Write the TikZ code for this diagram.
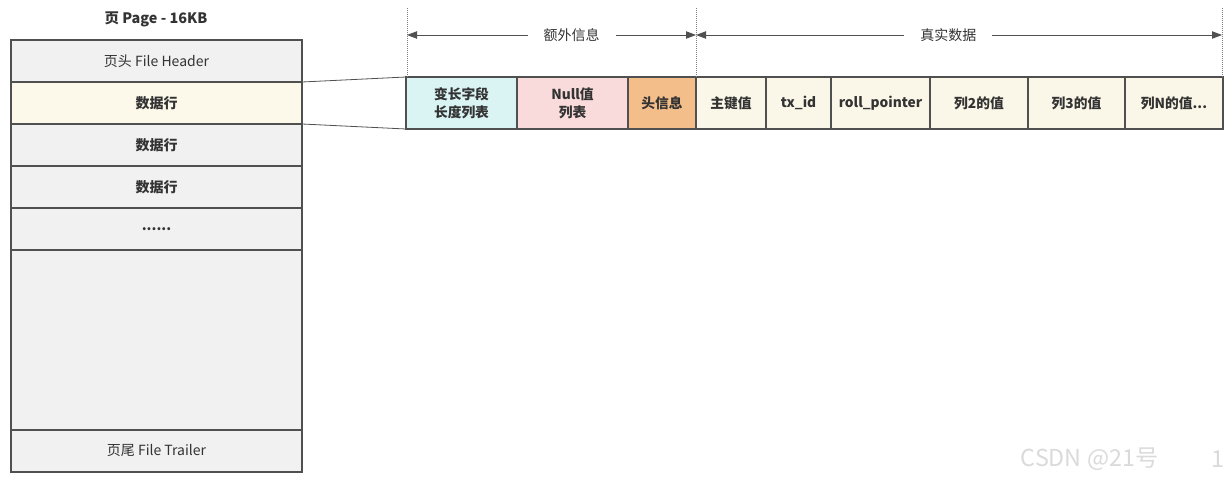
\documentclass[tikz,border=0pt]{standalone}
\usepackage{fontspec}
\setmainfont{Noto Sans CJK SC}
\usetikzlibrary{arrows.meta, positioning}

\definecolor{linegray}{HTML}{505050}
\definecolor{textgray}{HTML}{333333}
\definecolor{pagegray}{HTML}{F1F1F1}
\definecolor{rowcream}{HTML}{FCF8EA}
\definecolor{fieldcream}{HTML}{FBF7E8}
\definecolor{varcolor}{HTML}{DAF3F3}
\definecolor{nullcolor}{HTML}{F9DBDB}
\definecolor{headcolor}{HTML}{F4BE8B}
\definecolor{wmgray}{HTML}{DADADA}

\begin{document}
\begin{tikzpicture}[x=0.75pt, y=-0.75pt,
  pagerow/.style={draw=linegray, line width=0.9pt, fill=pagegray, outer sep=0pt,
                  minimum width=218.25pt, minimum height=31.5pt, inner sep=0pt,
                  font=\fontsize{10.5}{12}\selectfont, text=textgray},
  datarow/.style={pagerow, font=\fontsize{10.5}{12}\selectfont\bfseries},
  field/.style={draw=linegray, line width=0.9pt, fill=fieldcream, outer sep=0pt,
                minimum height=39pt, inner sep=0pt, align=center,
                font=\fontsize{10.3}{13.5}\selectfont\bfseries, text=textgray},
  dim/.style={{Triangle[length=7.5pt, width=5.5pt]}-{Triangle[length=7.5pt, width=5.5pt]},
              draw=linegray, line width=0.7pt},
  guide/.style={densely dotted, draw=gray, line width=0.5pt},
  dimlabel/.style={fill=white, inner xsep=12pt, font=\fontsize{10.5}{12}\selectfont,
                   text=textgray}
]
  \useasboundingbox (0,0) rectangle (1230,478);

  % page
  \node[font=\fontsize{10.8}{12}\selectfont\bfseries, text=textgray] (title) at (156,19) {页 Page - 16KB};
  \node[pagerow, anchor=north west] (header) at (11,40) {页头 File Header};
  \node[datarow, fill=rowcream, below=0pt of header] (row1) {数据行};
  \node[datarow, below=0pt of row1] (row2) {数据行};
  \node[datarow, below=0pt of row2] (row3) {数据行};
  \node[datarow, below=0pt of row3] (dots) {......};
  \node[pagerow, minimum height=135pt, below=0pt of dots] (free) {};
  \node[pagerow, below=0pt of free] (trailer) {页尾 File Trailer};

  % record
  \node[field, fill=varcolor, minimum width=83.25pt, anchor=north west] (varlen) at (406,77) {变长字段\\长度列表};
  \node[field, fill=nullcolor, minimum width=83.25pt, right=0pt of varlen] (nulls) {Null值\\列表};
  \node[field, fill=headcolor, minimum width=51pt, right=0pt of nulls] (rechead) {头信息};
  \node[field, minimum width=52.5pt, right=0pt of rechead] (pk) {主键值};
  \node[field, minimum width=48.75pt, right=0pt of pk] (txid) {tx\_id};
  \node[field, minimum width=74.25pt, right=0pt of txid] (rollptr) {roll\_pointer};
  \node[field, minimum width=73.5pt, right=0pt of rollptr] (col2) {列2的值};
  \node[field, minimum width=72.75pt, right=0pt of col2] (col3) {列3的值};
  \node[field, minimum width=73.5pt, right=0pt of col3] (colN) {列N的值...};

  % zoom lines
  \draw[linegray, line width=0.6pt] (row1.north east) -- (varlen.north west);
  \draw[linegray, line width=0.6pt] (row1.south east) -- (varlen.south west);

  % dimensions
  \coordinate (g1) at (407,8);
  \coordinate (g2) at (696,8);
  \coordinate (g3) at (1222,8);
  \draw[guide] (g1) -- (g1 |- varlen.north);
  \draw[guide] (g2) -- (g2 |- varlen.north);
  \draw[guide] (g3) -- (g3 |- varlen.north);
  \coordinate (a1) at (407,35);
  \coordinate (a2) at (696,35);
  \coordinate (a3) at (1222,35);
  \draw[dim] (a1) -- node[dimlabel, pos=0.57] (extra) {额外信息} (a2);
  \draw[dim] (a2) -- node[dimlabel, pos=0.48] (real) {真实数据} (a3);

  % watermark
  \node[anchor=west, text=wmgray, font=\fontsize{17.5}{20}\selectfont] (wm) at (1016,459) {CSDN @21号};
  \node[text=wmgray, font=\fontsize{17.5}{20}\selectfont] (wmpage) at (1218,459) {1};
\end{tikzpicture}
\end{document}
